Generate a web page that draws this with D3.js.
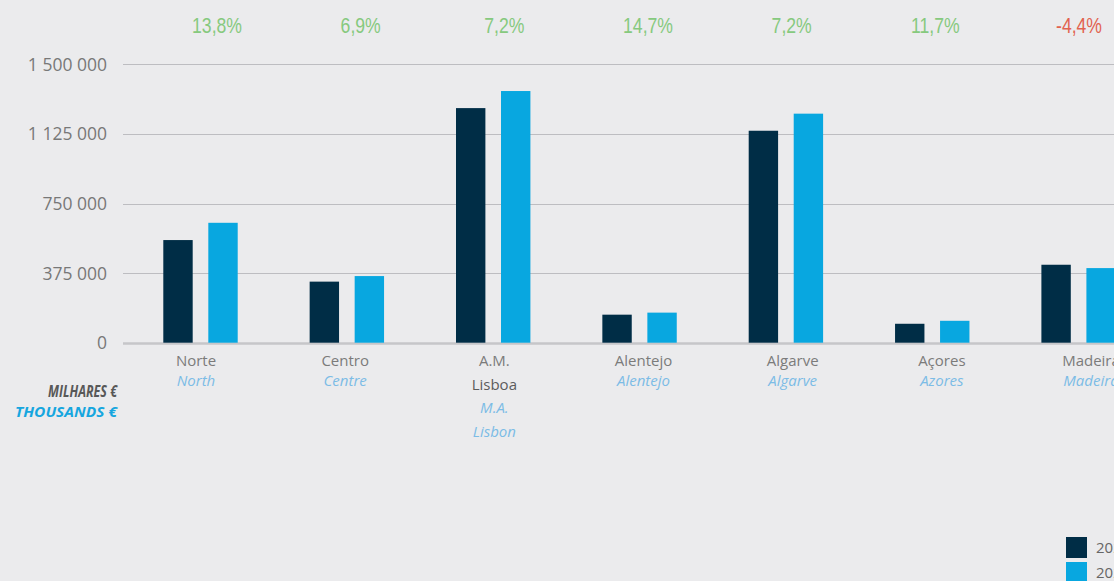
<!DOCTYPE html>
<html>
<head>
<meta charset="utf-8">
<script src="https://cdn.jsdelivr.net/npm/d3@7/dist/d3.min.js"></script>
<style>
  html, body { margin: 0; padding: 0; background: #ebebed; overflow: hidden; }
  svg { display: block; }
</style>
</head>
<body>
<svg id="chart" width="1114" height="581"></svg>
<script>
// Regions (Portuguese / English names)
const regions   = ["Norte", "Centro", "A.M. Lisboa", "Alentejo", "Algarve", "Açores", "Madeira"];
const labelsPT  = [["Norte"], ["Centro"], ["A.M.", "Lisboa"], ["Alentejo"], ["Algarve"], ["Açores"], ["Madeira"]];
const labelsEN  = [["North"], ["Centre"], ["M.A.", "Lisbon"], ["Alentejo"], ["Algarve"], ["Azores"], ["Madeira"]];

// Series (thousands of euros)
const seriesNames = ["2022", "2023"];
const valuesPrev  = [553000, 329000, 1264000, 151000, 1142000, 102000, 420000];
const valuesCurr  = [646000, 359000, 1356000, 162000, 1234000, 118000, 402000];

// Year-on-year change shown above each region (%)
const changePct = [13.8, 6.9, 7.2, 14.7, 7.2, 11.7, -4.4];

// Value axis ticks
const yTicks = [0, 375000, 750000, 1125000, 1500000];

const svg = d3.select("#chart");
const W = 1114, H = 581;

const colors = ["#002d46", "#08a7e0"];

const y = d3.scaleLinear().domain([0, 1500000]).range([342.7, 64.3]);

const x = d3.scaleBand().domain(regions).range([163.3, 1115.8])
  .paddingInner(0.4916).paddingOuter(0);
const xSub = d3.scaleBand().domain(seriesNames).range([0, x.bandwidth()])
  .paddingInner(0.347).paddingOuter(0);

const xLabel = d3.scalePoint().domain(regions).range([196, 1091]);
const xPct   = d3.scalePoint().domain(regions).range([217, 1079]);

const locale = d3.formatLocale({ decimal: ",", thousands: " ", grouping: [3], currency: ["", "€"], minus: "-" });
const fmtTick = locale.format(",.0f");
const fmtPct = locale.format(".1f");

// Value labels
const yAxis = d3.axisLeft(y).tickValues(yTicks).tickSize(0).tickPadding(0).tickFormat(fmtTick);
const gAxis = svg.append("g").attr("transform", "translate(107,0)").call(yAxis);
gAxis.select(".domain").remove();
gAxis.selectAll("text")
  .attr("font-family", "'Open Sans', sans-serif")
  .attr("font-size", 17.5)
  .attr("fill", "#787878")
  .attr("dy", "0.34em")
  .attr("x", 0);

// Gridlines
svg.append("g").selectAll("line")
  .data(yTicks)
  .join("line")
  .attr("x1", 123).attr("x2", W)
  .attr("y1", d => Math.round(y(d)) + 0.5).attr("y2", d => Math.round(y(d)) + 0.5)
  .attr("stroke", d => d === 0 ? "#c6c6c9" : "#bdbdc1")
  .attr("stroke-width", d => d === 0 ? 2.5 : 1);

// Bars
const rows = regions.map((r, i) => ({ region: r, vals: [valuesPrev[i], valuesCurr[i]] }));
const groups = svg.append("g").selectAll("g")
  .data(rows)
  .join("g")
  .attr("transform", d => `translate(${x(d.region)},0)`);

groups.selectAll("rect")
  .data(d => d.vals.map((v, k) => ({ key: seriesNames[k], k, v })))
  .join("rect")
  .attr("x", d => xSub(d.key))
  .attr("width", xSub.bandwidth())
  .attr("y", d => y(d.v))
  .attr("height", d => y(0) - y(d.v))
  .attr("fill", d => colors[d.k]);

// Change labels along the top (condensed)
svg.append("g").selectAll("text")
  .data(regions)
  .join("text")
  .attr("transform", d => `translate(${xPct(d)},33) scale(0.8,1)`)
  .attr("text-anchor", "middle")
  .attr("font-family", "'Liberation Sans', Arial, sans-serif")
  .attr("font-size", 22)
  .attr("fill", (d, i) => changePct[i] < 0 ? "#e2624f" : "#86c97e")
  .text((d, i) => fmtPct(changePct[i]) + "%");

// Region labels
const lab = svg.append("g").selectAll("g")
  .data(regions)
  .join("g")
  .attr("transform", d => `translate(${xLabel(d)},0)`);

lab.each(function (d, i) {
  const g = d3.select(this);
  const pt = labelsPT[i], en = labelsEN[i];
  const multi = pt.length > 1;
  const lines = [];
  pt.forEach(t => lines.push({ t, en: false }));
  en.forEach(t => lines.push({ t, en: true }));
  const ys = multi ? [366, 390, 413, 437] : [366, 386];
  g.selectAll("text")
    .data(lines)
    .join("text")
    .attr("x", 0)
    .attr("y", (l, j) => ys[j])
    .attr("text-anchor", "middle")
    .attr("font-family", "'Open Sans', sans-serif")
    .attr("font-size", 15)
    .attr("font-style", l => l.en ? "italic" : "normal")
    .attr("fill", (l, j) => l.en ? "#7cbce6" : (multi && j === 1 ? "#5c5c5c" : "#7b7b7b"))
    .text(l => l.t);
});

// Unit labels
svg.append("text")
  .attr("x", 117).attr("y", 397)
  .attr("text-anchor", "end")
  .attr("font-family", "'Open Sans', sans-serif")
  .attr("font-size", 15.5).attr("font-weight", 700).attr("font-style", "italic")
  .attr("textLength", 69).attr("lengthAdjust", "spacingAndGlyphs")
  .attr("fill", "#585858")
  .text("MILHARES €");
svg.append("text")
  .attr("x", 117).attr("y", 417)
  .attr("text-anchor", "end")
  .attr("font-family", "'Open Sans', sans-serif")
  .attr("font-size", 14.5).attr("font-weight", 700).attr("font-style", "italic")
  .attr("textLength", 102).attr("lengthAdjust", "spacingAndGlyphs")
  .attr("fill", "#16a6df")
  .text("THOUSANDS €");

// Legend
const leg = svg.append("g").selectAll("g")
  .data(seriesNames)
  .join("g")
  .attr("transform", (d, i) => `translate(1066,${537 + i * 25})`);
leg.append("rect").attr("width", 21).attr("height", 21).attr("fill", (d, i) => colors[i]);
leg.append("text")
  .attr("x", 30).attr("y", 16)
  .attr("font-family", "'Open Sans', sans-serif")
  .attr("font-size", 15)
  .attr("fill", "#666")
  .text(d => d);
</script>
</body>
</html>
